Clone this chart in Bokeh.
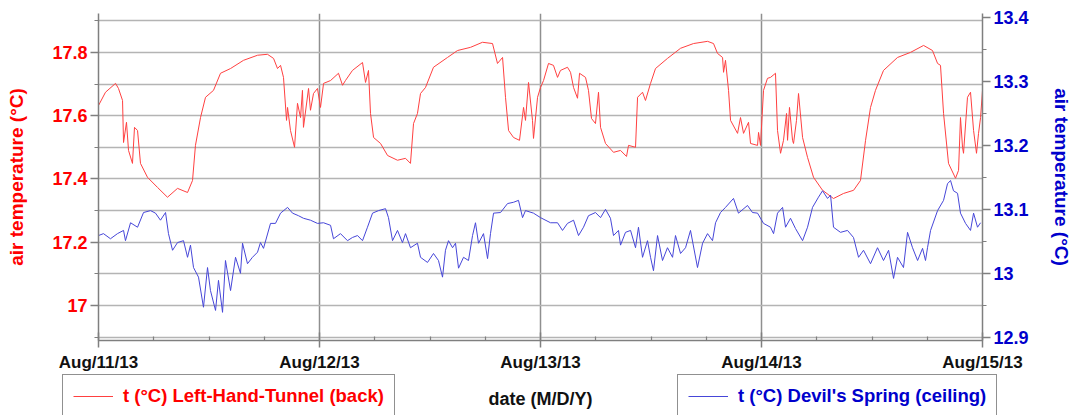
from bokeh.plotting import figure
from bokeh.layouts import column
from bokeh.models import Range1d, LinearAxis, FixedTicker, Legend, LegendItem, Label
from bokeh.embed import file_html
from bokeh.resources import INLINE

# ---- data: hours since Aug 11 2013 00:00 ----
day_ticks = [0, 24, 48, 72, 96]
day_labels = ["Aug/11/13", "Aug/12/13", "Aug/13/13", "Aug/14/13", "Aug/15/13"]
left_ticks = [17.0, 17.2, 17.4, 17.6, 17.8]
left_labels = ["17", "17.2", "17.4", "17.6", "17.8"]
right_ticks = [12.9, 13.0, 13.1, 13.2, 13.3, 13.4]
right_labels = ["12.9", "13", "13.1", "13.2", "13.3", "13.4"]

red_hours = [
    0, 0.76, 1.85, 2.17, 2.61, 2.72, 3.04, 3.26, 3.69, 3.91,
    4.24, 4.56, 5.32, 6.41, 7.49, 8.58, 9.67, 10.21, 10.53, 11.08,
    11.62, 12.49, 13.25, 14.34, 15.75, 17.27, 18.35, 19.01, 19.44, 19.77,
    20.09, 20.42, 20.53, 20.85, 21.29, 21.61, 21.94, 22.15, 22.26, 22.81,
    23.02, 23.35, 23.78, 24.11, 24.44, 25.20, 26.06, 26.50, 26.82, 27.58,
    28.67, 29.00, 29.32, 29.54, 29.87, 30.63, 31.39, 32.47, 33.34, 33.88,
    34.21, 34.64, 34.97, 35.51, 36.38, 37.90, 38.99, 40.40, 41.70, 42.79,
    43.33, 43.88, 44.20, 44.53, 45.07, 45.72, 46.16, 46.37, 46.70, 47.13,
    47.24, 47.68, 48.00, 48.33, 48.87, 49.41, 49.85, 50.17, 50.93, 51.26,
    51.59, 52.02, 52.24, 52.89, 53.21, 53.54, 53.97, 54.30, 54.52, 55.06,
    55.93, 56.69, 57.34, 57.56, 58.32, 58.54, 59.08, 59.40, 59.95, 60.49,
    61.79, 63.21, 64.62, 66.14, 66.79, 67.22, 67.77, 67.88, 68.09, 68.42,
    68.64, 69.40, 69.72, 70.05, 70.59, 70.81, 71.57, 71.68, 71.89, 72.22,
    72.65, 72.98, 73.52, 73.74, 74.07, 74.39, 74.72, 74.83, 75.04, 75.37,
    75.48, 75.80, 76.02, 76.46, 77.00, 77.65, 78.63, 79.82, 80.91, 82.00,
    82.75, 83.30, 83.84, 84.38, 85.25, 86.77, 88.18, 89.60, 90.57, 91.12,
    91.44, 91.77, 92.31, 93.07, 93.40, 93.61, 93.83, 93.94, 94.37, 94.70,
    95.03, 95.35, 95.57, 95.79, 96.00,
]
red_temp = [
    17.632, 17.674, 17.702, 17.686, 17.648, 17.515, 17.579, 17.490, 17.449, 17.563,
    17.553, 17.449, 17.405, 17.373, 17.342, 17.370, 17.357, 17.395, 17.506, 17.594,
    17.658, 17.680, 17.734, 17.749, 17.775, 17.791, 17.794, 17.781, 17.749, 17.759,
    17.721, 17.585, 17.626, 17.553, 17.500, 17.639, 17.594, 17.680, 17.563, 17.686,
    17.617, 17.670, 17.686, 17.626, 17.702, 17.711, 17.734, 17.696, 17.711, 17.743,
    17.768, 17.705, 17.743, 17.607, 17.531, 17.512, 17.474, 17.459, 17.465, 17.449,
    17.575, 17.607, 17.670, 17.689, 17.753, 17.784, 17.806, 17.816, 17.832, 17.828,
    17.765, 17.784, 17.658, 17.553, 17.531, 17.522, 17.626, 17.585, 17.705, 17.585,
    17.528, 17.658, 17.689, 17.711, 17.765, 17.759, 17.721, 17.743, 17.753, 17.737,
    17.689, 17.655, 17.734, 17.721, 17.680, 17.591, 17.575, 17.674, 17.563, 17.512,
    17.484, 17.490, 17.471, 17.506, 17.500, 17.658, 17.674, 17.648, 17.702, 17.749,
    17.781, 17.813, 17.828, 17.835, 17.828, 17.797, 17.784, 17.737, 17.775, 17.680,
    17.585, 17.544, 17.594, 17.544, 17.579, 17.512, 17.506, 17.547, 17.506, 17.680,
    17.718, 17.721, 17.734, 17.553, 17.481, 17.522, 17.607, 17.522, 17.626, 17.522,
    17.512, 17.585, 17.670, 17.531, 17.468, 17.405, 17.364, 17.338, 17.354, 17.364,
    17.395, 17.522, 17.626, 17.680, 17.743, 17.784, 17.800, 17.822, 17.806, 17.765,
    17.759, 17.607, 17.449, 17.402, 17.427, 17.594, 17.500, 17.481, 17.658, 17.674,
    17.553, 17.481, 17.544, 17.594, 17.680,
]

blue_hours = [
    0, 0.54, 1.30, 2.06, 2.72, 2.93, 3.48, 4.24, 4.89, 5.65,
    6.19, 6.73, 7.28, 7.60, 8.04, 8.58, 9.23, 9.67, 9.99, 10.32,
    10.86, 11.40, 11.84, 12.16, 12.71, 13.03, 13.47, 13.79, 14.34, 14.88,
    15.42, 15.64, 16.18, 16.72, 17.27, 17.59, 17.92, 18.68, 19.22, 19.77,
    20.53, 21.07, 21.72, 22.26, 23.02, 23.78, 24.44, 25.20, 25.52, 26.28,
    27.04, 27.58, 28.13, 28.67, 29.21, 29.76, 30.41, 31.17, 31.49, 31.93,
    32.47, 33.01, 33.34, 33.88, 34.64, 34.97, 35.73, 36.38, 36.92, 37.36,
    37.68, 38.01, 38.45, 38.77, 39.10, 39.64, 40.18, 40.62, 40.94, 41.27,
    41.81, 42.25, 42.57, 42.90, 43.66, 44.42, 45.07, 45.61, 46.05, 46.37,
    47.24, 48.00, 49.09, 49.85, 50.39, 50.93, 51.59, 52.13, 52.67, 53.21,
    53.97, 54.52, 55.06, 55.60, 55.93, 56.47, 56.69, 57.23, 57.78, 58.32,
    58.64, 59.08, 59.62, 59.95, 60.27, 60.71, 61.25, 61.79, 62.34, 62.66,
    63.21, 63.75, 64.29, 65.05, 65.60, 66.14, 66.68, 67.01, 67.55, 68.09,
    68.96, 69.50, 70.48, 71.02, 71.57, 72.22, 72.98, 73.31, 73.74, 74.29,
    74.61, 75.15, 75.69, 76.46, 77.00, 77.54, 78.19, 78.63, 79.17, 79.50,
    79.82, 80.58, 81.34, 81.99, 82.54, 83.08, 83.84, 84.60, 85.25, 85.80,
    86.34, 86.77, 87.42, 87.86, 88.40, 88.95, 89.49, 89.81, 90.03, 90.36,
    91.12, 91.77, 92.20, 92.53, 92.85, 93.29, 93.61, 94.16, 94.70, 95.03,
    95.46, 95.79,
]
blue_temp = [
    13.060, 13.063, 13.055, 13.063, 13.068, 13.052, 13.080, 13.073, 13.096, 13.099,
    13.095, 13.084, 13.096, 13.063, 13.037, 13.049, 13.052, 13.026, 13.045, 13.010,
    12.995, 12.948, 13.010, 12.974, 12.943, 12.990, 12.940, 13.021, 12.974, 13.026,
    13.001, 13.048, 13.016, 13.026, 13.034, 13.049, 13.040, 13.079, 13.079, 13.095,
    13.104, 13.095, 13.091, 13.087, 13.084, 13.079, 13.080, 13.076, 13.055, 13.063,
    13.052, 13.057, 13.060, 13.052, 13.073, 13.095, 13.099, 13.102, 13.088, 13.052,
    13.068, 13.049, 13.063, 13.041, 13.048, 13.026, 13.018, 13.032, 13.021, 12.995,
    13.037, 13.052, 13.041, 13.048, 13.009, 13.026, 13.021, 13.060, 13.080, 13.048,
    13.063, 13.024, 13.063, 13.095, 13.096, 13.110, 13.112, 13.115, 13.088, 13.099,
    13.095, 13.088, 13.080, 13.080, 13.068, 13.079, 13.084, 13.060, 13.073, 13.091,
    13.096, 13.088, 13.101, 13.087, 13.060, 13.068, 13.045, 13.065, 13.068, 13.041,
    13.073, 13.026, 13.052, 13.026, 13.005, 13.060, 13.021, 13.041, 13.026, 13.060,
    13.032, 13.041, 13.068, 13.010, 13.048, 13.063, 13.052, 13.080, 13.096, 13.104,
    13.118, 13.095, 13.107, 13.096, 13.095, 13.079, 13.073, 13.063, 13.095, 13.104,
    13.073, 13.087, 13.071, 13.052, 13.073, 13.104, 13.120, 13.130, 13.118, 13.123,
    13.073, 13.065, 13.068, 13.057, 13.026, 13.037, 13.016, 13.041, 13.021, 13.037,
    12.993, 13.026, 13.010, 13.065, 13.041, 13.021, 13.040, 13.021, 13.041, 13.068,
    13.099, 13.115, 13.141, 13.146, 13.130, 13.126, 13.095, 13.079, 13.068, 13.095,
    13.073, 13.080,
]

red_name = "t (°C) Left-Hand-Tunnel (back)"
blue_name = "t (°C) Devil's Spring (ceiling)"
x_title = "date (M/D/Y)"
y_title = "air temperature (°C)"

FONT = "Liberation Sans"
RED_TXT = "#ff0000"
BLUE_TXT = "#0000cc"
RED_LINE = "#ff4040"
BLUE_LINE = "#4646d8"
AXIS_GRAY = "#7f7f7f"


def no_align(fig):
    if "frame_align" in fig.properties():
        fig.frame_align = False


p = figure(width=1074, height=374,
           x_range=Range1d(0, 96), y_range=Range1d(16.889, 17.923),
           output_backend="svg", toolbar_location=None,
           min_border_left=98, min_border_right=92,
           min_border_top=13, min_border_bottom=34)
no_align(p)
p.outline_line_color = None
p.background_fill_color = "white"
p.border_fill_color = "white"
p.extra_y_ranges = {"right": Range1d(12.896, 13.407)}

# grids
p.xgrid.ticker = FixedTicker(ticks=day_ticks[1:-1])
p.xgrid.grid_line_color = "#8f8f8f"
p.xgrid.grid_line_width = 1.5
p.ygrid.ticker = FixedTicker(ticks=[16.9, 17.0, 17.1, 17.2, 17.3, 17.4, 17.5, 17.6, 17.7, 17.8, 17.9])
p.ygrid.grid_line_color = "#b4b4b4"
p.ygrid.grid_line_width = 1.5

# x axis
xa = p.xaxis[0]
xa.ticker = FixedTicker(ticks=day_ticks,
                        minor_ticks=[6, 12, 18, 30, 36, 42, 54, 60, 66, 78, 84, 90])
xa.major_label_overrides = dict(zip(day_ticks, day_labels))
xa.major_tick_in = 8
xa.major_tick_out = 7
xa.minor_tick_in = 4
xa.minor_tick_out = 0
xa.major_label_standoff = 5
xa.major_label_text_font = FONT
xa.major_label_text_font_style = "bold"
xa.major_label_text_font_size = "17px"
xa.major_label_text_color = "#111111"

# left axis
ya = p.yaxis[0]
ya.ticker = FixedTicker(ticks=left_ticks, minor_ticks=[16.9, 17.1, 17.3, 17.5, 17.7, 17.9])
ya.major_label_overrides = dict(zip(left_ticks, left_labels))
ya.axis_label = y_title
ya.axis_label_text_color = RED_TXT
ya.major_label_text_color = RED_TXT
ya.axis_label_standoff = 22

# right axis
ra = LinearAxis(y_range_name="right",
                ticker=FixedTicker(ticks=right_ticks,
                                   minor_ticks=[12.95, 13.05, 13.15, 13.25, 13.35]))
ra.major_label_overrides = dict(zip(right_ticks, right_labels))
ra.axis_label = y_title
ra.axis_label_text_color = BLUE_TXT
ra.major_label_text_color = BLUE_TXT
ra.axis_label_standoff = 19
p.add_layout(ra, "right")

for ax in [ya, ra]:
    ax.major_tick_in = 0
    ax.major_tick_out = 8
    ax.minor_tick_in = 0
    ax.minor_tick_out = 4
    ax.major_label_standoff = 3
    ax.major_label_text_font = FONT
    ax.major_label_text_font_style = "bold"
    ax.major_label_text_font_size = "18px"
    ax.axis_label_text_font = FONT
    ax.axis_label_text_font_style = "bold"
    ax.axis_label_text_font_size = "19px"

for ax in [xa, ya, ra]:
    ax.axis_line_color = AXIS_GRAY
    ax.axis_line_width = 1.5
    ax.major_tick_line_color = AXIS_GRAY
    ax.major_tick_line_width = 1.5
    ax.minor_tick_line_color = AXIS_GRAY
    ax.minor_tick_line_width = 1.2

p.line(red_hours, red_temp, line_color=RED_LINE, line_width=1)
p.line(blue_hours, blue_temp, line_color=BLUE_LINE, line_width=1, y_range_name="right")

# ---- bottom strip: x-axis title and the two legend boxes ----
q = figure(width=1074, height=41, x_range=Range1d(0, 1074), y_range=Range1d(0, 41),
           output_backend="svg", toolbar_location=None,
           x_axis_location=None, y_axis_location=None, min_border=0)
no_align(q)
q.outline_line_color = None
q.grid.visible = False
q.background_fill_color = "white"
q.border_fill_color = "white"
# legend-key renderers: same series, on a range that keeps them out of view in this strip
q.extra_y_ranges = {"offstrip": Range1d(100, 101)}
lg_red = q.line(red_hours, red_temp, line_color=RED_LINE, line_width=1, y_range_name="offstrip")
lg_blue = q.line(blue_hours, blue_temp, line_color=BLUE_LINE, line_width=1, y_range_name="offstrip")


def make_legend(name, rend, color, loc):
    lg = Legend(items=[LegendItem(label=name, renderers=[rend])], location=loc)
    lg.margin = 0
    lg.padding = 10
    lg.spacing = 0
    lg.glyph_width = 40
    lg.label_standoff = 10
    lg.label_text_font = FONT
    lg.label_text_font_style = "bold"
    lg.label_text_font_size = "18.5px"
    lg.label_text_color = color
    lg.border_line_color = "#222222"
    lg.border_line_width = 1.5
    lg.background_fill_color = "white"
    lg.background_fill_alpha = 1.0
    return lg


q.add_layout(make_legend(red_name, lg_red, RED_TXT, (62, -3)), "center")
q.add_layout(make_legend(blue_name, lg_blue, BLUE_TXT, (677, -3)), "center")
q.add_layout(Label(x=540, y=17, text=x_title, text_align="center", text_baseline="middle",
                   text_font=FONT, text_font_style="bold", text_font_size="18px",
                   text_color="#111111"))

layout = column(p, q, spacing=0)
open("out.html", "w").write(file_html(layout, INLINE))
